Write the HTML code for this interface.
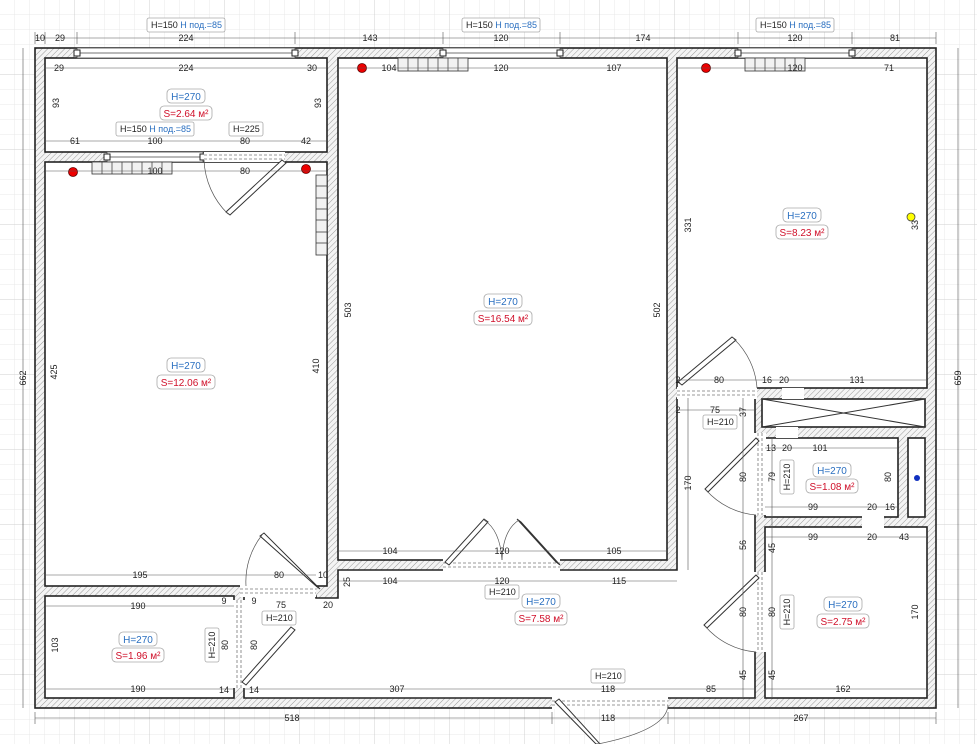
<!DOCTYPE html>
<html><head><meta charset="utf-8"><style>
html,body{margin:0;padding:0;background:#fff}
svg{display:block}
text{font-family:"Liberation Sans",sans-serif;font-size:9px;fill:#222}
.b{fill:#2a6fc0;font-size:10px}.r{fill:#d0102a;font-size:10px}
.bx{fill:#fff;stroke:#aaa;stroke-width:0.8}
.rm{fill:#fff;stroke:#222;stroke-width:1.6}
.dl{stroke:#555;stroke-width:0.6;fill:none}
.op{fill:#fff;stroke:#444;stroke-width:0.8}
.ds{stroke:#777;stroke-width:0.8;stroke-dasharray:3 2;fill:none}
.lf{fill:#fff;stroke:#333;stroke-width:1}
.ar{fill:none;stroke:#555;stroke-width:0.7}
</style></head><body>
<svg width="977" height="744" viewBox="0 0 977 744" xmlns="http://www.w3.org/2000/svg">
<defs>
<pattern id="g" width="15" height="15" patternUnits="userSpaceOnUse"><path d="M15 0V15H0" fill="none" stroke="#e2e2e2" stroke-width="0.7"/></pattern>
<pattern id="G" width="75" height="75" patternUnits="userSpaceOnUse"><path d="M75 0V75H0" fill="none" stroke="#cfcfcf" stroke-width="0.9"/></pattern>
<pattern id="h" width="4" height="4" patternUnits="userSpaceOnUse" patternTransform="rotate(45)"><rect width="4" height="4" fill="#f4f4f4"/><line x1="0" y1="0" x2="0" y2="4" stroke="#9a9a9a" stroke-width="1"/></pattern>
</defs>
<rect width="977" height="744" fill="#fff"/>
<rect width="977" height="744" fill="url(#g)"/>
<rect width="977" height="744" fill="url(#G)"/>
<!-- building -->
<rect x="35" y="48" width="901" height="660" fill="url(#h)" stroke="#222" stroke-width="1.6"/>
<rect class="rm" x="45" y="58" width="282" height="94"/>
<rect class="rm" x="45" y="162" width="282" height="424"/>
<rect class="rm" x="338" y="58" width="329" height="502"/>
<rect class="rm" x="677" y="58" width="250" height="330"/>
<rect class="rm" x="45" y="596" width="189" height="102"/>
<polygon class="rm" points="244,596 316,596 316,598 338,598 338,570 677,570 677,398 755,398 755,698 244,698"/>
<rect class="rm" x="762" y="399" width="163" height="28"/>
<path d="M762 399L925 427M762 427L925 399" stroke="#333" stroke-width="1" fill="none" transform="translate(0,0)"/>
<rect class="rm" x="765" y="438" width="133" height="79"/>
<rect class="rm" x="908" y="438" width="17" height="79"/>
<rect class="rm" x="765" y="527" width="162" height="171"/>
<circle cx="917" cy="478" r="3" fill="#1030c0"/>
<!-- windows -->
<rect class="op" x="77" y="48" width="218" height="10"/><line x1="77" y1="53" x2="295" y2="53" stroke="#444" stroke-width="0.8"/>
<rect class="op" x="443" y="48" width="117" height="10"/><line x1="443" y1="53" x2="560" y2="53" stroke="#444" stroke-width="0.8"/>
<rect class="op" x="738" y="48" width="114" height="10"/><line x1="738" y1="53" x2="852" y2="53" stroke="#444" stroke-width="0.8"/>
<rect class="op" x="107" y="152" width="96" height="10"/><line x1="107" y1="157" x2="203" y2="157" stroke="#444" stroke-width="0.8"/>
<g fill="#fff" stroke="#222" stroke-width="1">
<rect x="74" y="50" width="6" height="6"/><rect x="292" y="50" width="6" height="6"/>
<rect x="440" y="50" width="6" height="6"/><rect x="557" y="50" width="6" height="6"/>
<rect x="735" y="50" width="6" height="6"/><rect x="849" y="50" width="6" height="6"/>
<rect x="104" y="154" width="6" height="6"/><rect x="200" y="154" width="6" height="6"/>
</g>
<!-- door openings -->
<g fill="#fff" stroke="none">
<rect x="204" y="152" width="81" height="10"/>
<rect x="443" y="559" width="117" height="12"/>
<rect x="552" y="697" width="116" height="12"/>
<rect x="240" y="585" width="76" height="12"/>
<rect x="233" y="600" width="12" height="88"/>
<rect x="677" y="387" width="80" height="12"/>
<rect x="754" y="433" width="12" height="82"/>
<rect x="754" y="572" width="12" height="80"/>
<rect x="776" y="427" width="22" height="11"/>
<rect x="862" y="516" width="22" height="12"/>
<rect x="782" y="388" width="22" height="11"/>
</g>
<g class="ds">
<path d="M204 155H285M204 159H285"/><path d="M443 563H560M443 567H560"/><path d="M552 701H668M552 705H668"/>
<path d="M240 589H316M240 593H316"/><path d="M237 600V688M241 600V688"/><path d="M677 391H757M677 395H757"/>
<path d="M758 433V515M762 433V515"/><path d="M758 572V652M762 572V652"/>
</g>
<!-- door leaves -->
<g class="lf">
<polygon points="282,160 286,163 230,215 226,212"/>
<polygon points="445,562 449,565 488,522 484,519"/>
<polygon points="556,562 560,565 521,522 517,519"/>
<polygon points="555,702 559,699 600,744 596,744"/>
<polygon points="316,586 320,589 264,533 260,536"/>
<polygon points="242,682 246,685 295,630 291,627"/>
<polygon points="678,382 682,385 736,340 732,337"/>
<polygon points="756,438 759,441 708,492 705,489"/>
<polygon points="756,575 759,578 707,628 704,625"/>
</g>
<g class="ar">
<path d="M204 160A80 80 0 0 0 228 214"/>
<path d="M246 586A75 75 0 0 1 262 535"/>
<path d="M240 684"/>
<path d="M734 339A75 75 0 0 1 757 388"/>
<path d="M706 490A75 75 0 0 0 756 515"/>
<path d="M705 626A75 75 0 0 0 756 652"/>
<path d="M484 520Q500 530 502 560"/><path d="M519 520Q503 530 502 560"/>
<path d="M598 744Q667 730 668 705"/>
</g>
<!-- radiators -->
<g fill="#f2f2f2" stroke="#333" stroke-width="0.8">
<rect x="398" y="58" width="70" height="13"/><rect x="745" y="58" width="60" height="13"/>
<rect x="92" y="162" width="80" height="12"/><rect x="316" y="175" width="11" height="80"/>
</g>
<path d="M408 58v13M418 58v13M428 58v13M438 58v13M448 58v13M458 58v13M755 58v13M765 58v13M775 58v13M785 58v13M795 58v13M102 162v12M112 162v12M122 162v12M132 162v12M142 162v12M152 162v12M162 162v12M316 186h11M316 198h11M316 209h11M316 220h11M316 232h11M316 243h11" stroke="#333" stroke-width="0.7"/>
<g fill="#e00" stroke="#600" stroke-width="0.8"><circle cx="362" cy="68" r="4.5"/><circle cx="706" cy="68" r="4.5"/><circle cx="73" cy="172" r="4.5"/><circle cx="306" cy="169" r="4.5"/></g>
<circle cx="911" cy="217" r="4" fill="#ff0" stroke="#444" stroke-width="0.8"/>
<!-- dimension lines -->
<g class="dl">
<path d="M35 38H936M35 32V44M45 32V44M77 32V44M295 32V44M443 32V44M560 32V44M738 32V44M852 32V44M936 32V44"/>
<path d="M45 68H327M338 68H667M677 68H927"/>
<path d="M45 141H327M45 171H327"/>
<path d="M23 48V708M958 48V708M35 718H936M35 712V724M552 712V724M668 712V724M936 712V724"/>
<path d="M45 575H316M338 551H667M338 581H677M45 606H234M45 689H234M244 689H755M765 689H927"/>
<path d="M677 380H927M677 410H755M765 448H898M765 507H898M765 537H927"/>
<path d="M688 398V570M743 398V698M772 438V698"/>
</g>
<!-- text -->
<g text-anchor="middle">
<text x="40" y="41">10</text><text x="60" y="41">29</text><text x="186" y="41">224</text><text x="370" y="41">143</text><text x="501" y="41">120</text><text x="643" y="41">174</text><text x="795" y="41">120</text><text x="895" y="41">81</text>
<text x="59" y="71">29</text><text x="186" y="71">224</text><text x="312" y="71">30</text><text x="389" y="71">104</text><text x="501" y="71">120</text><text x="614" y="71">107</text><text x="795" y="71">120</text><text x="889" y="71">71</text>
<text x="75" y="144">61</text><text x="155" y="144">100</text><text x="245" y="144">80</text><text x="306" y="144">42</text>
<text x="155" y="174">100</text><text x="245" y="174">80</text>
<text x="140" y="578">195</text><text x="279" y="578">80</text><text x="323" y="578">10</text>
<text x="390" y="554">104</text><text x="502" y="554">120</text><text x="614" y="554">105</text>
<text x="390" y="584">104</text><text x="502" y="584">120</text><text x="619" y="584">115</text>
<text x="138" y="609">190</text><text x="138" y="692">190</text><text x="224" y="604">9</text><text x="254" y="604">9</text><text x="281" y="608">75</text><text x="328" y="608">20</text>
<text x="224" y="693">14</text><text x="254" y="693">14</text><text x="397" y="692">307</text><text x="292" y="721">518</text>
<text x="608" y="692">118</text><text x="711" y="692">85</text><text x="608" y="721">118</text><text x="801" y="721">267</text>
<text x="678" y="383">2</text><text x="719" y="383">80</text><text x="767" y="383">16</text><text x="784" y="383">20</text><text x="857" y="383">131</text>
<text x="678" y="413">2</text><text x="715" y="413">75</text>
<text x="771" y="451">13</text><text x="787" y="451">20</text><text x="820" y="451">101</text>
<text x="813" y="510">99</text><text x="872" y="510">20</text><text x="890" y="510">16</text>
<text x="813" y="540">99</text><text x="872" y="540">20</text><text x="904" y="540">43</text><text x="843" y="692">162</text>
</g>
<g text-anchor="middle">
<text transform="translate(26,378) rotate(-90)">662</text><text transform="translate(57,372) rotate(-90)">425</text><text transform="translate(59,103) rotate(-90)">93</text><text transform="translate(321,103) rotate(-90)">93</text>
<text transform="translate(319,366) rotate(-90)">410</text><text transform="translate(351,310) rotate(-90)">503</text><text transform="translate(660,310) rotate(-90)">502</text>
<text transform="translate(691,225) rotate(-90)">331</text><text transform="translate(918,225) rotate(-90)">33</text><text transform="translate(961,378) rotate(-90)">659</text>
<text transform="translate(350,582) rotate(-90)">25</text><text transform="translate(58,645) rotate(-90)">103</text><text transform="translate(228,645) rotate(-90)">80</text><text transform="translate(257,645) rotate(-90)">80</text>
<text transform="translate(746,412) rotate(-90)">37</text><text transform="translate(691,483) rotate(-90)">170</text><text transform="translate(746,477) rotate(-90)">80</text><text transform="translate(775,477) rotate(-90)">79</text><text transform="translate(891,477) rotate(-90)">80</text>
<text transform="translate(746,545) rotate(-90)">56</text><text transform="translate(775,548) rotate(-90)">45</text><text transform="translate(746,612) rotate(-90)">80</text><text transform="translate(775,612) rotate(-90)">80</text>
<text transform="translate(746,675) rotate(-90)">45</text><text transform="translate(775,675) rotate(-90)">45</text><text transform="translate(918,612) rotate(-90)">170</text>
</g>
<!-- label boxes -->
<g>
<rect class="bx" x="147" y="18" width="78" height="14" rx="2"/><text x="151" y="28">H=150 <tspan fill="#2a6fc0">Н под.=85</tspan></text>
<rect class="bx" x="462" y="18" width="78" height="14" rx="2"/><text x="466" y="28">H=150 <tspan fill="#2a6fc0">Н под.=85</tspan></text>
<rect class="bx" x="756" y="18" width="78" height="14" rx="2"/><text x="760" y="28">H=150 <tspan fill="#2a6fc0">Н под.=85</tspan></text>
<rect class="bx" x="116" y="122" width="78" height="14" rx="2"/><text x="120" y="132">H=150 <tspan fill="#2a6fc0">Н под.=85</tspan></text>
<rect class="bx" x="229" y="122" width="34" height="14" rx="2"/><text x="233" y="132">H=225</text>
<rect class="bx" x="485" y="585" width="34" height="14" rx="2"/><text x="489" y="595">H=210</text>
<rect class="bx" x="262" y="611" width="34" height="14" rx="2"/><text x="266" y="621">H=210</text>
<rect class="bx" x="591" y="669" width="34" height="14" rx="2"/><text x="595" y="679">H=210</text>
<rect class="bx" x="703" y="415" width="34" height="14" rx="2"/><text x="707" y="425">H=210</text>
<rect class="bx" x="205" y="628" width="14" height="34" rx="2"/><text transform="translate(215,645) rotate(-90)" text-anchor="middle">H=210</text>
<rect class="bx" x="780" y="460" width="14" height="34" rx="2"/><text transform="translate(790,477) rotate(-90)" text-anchor="middle">H=210</text>
<rect class="bx" x="780" y="595" width="14" height="34" rx="2"/><text transform="translate(790,612) rotate(-90)" text-anchor="middle">H=210</text>
</g>
<g text-anchor="middle">
<rect class="bx" x="167" y="89" width="38" height="14" rx="4"/><text class="b" x="186" y="100">H=270</text>
<rect class="bx" x="160" y="106" width="52" height="14" rx="4"/><text class="r" x="186" y="117">S=2.64 м²</text>
<rect class="bx" x="167" y="358" width="38" height="14" rx="4"/><text class="b" x="186" y="369">H=270</text>
<rect class="bx" x="157" y="375" width="58" height="14" rx="4"/><text class="r" x="186" y="386">S=12.06 м²</text>
<rect class="bx" x="484" y="294" width="38" height="14" rx="4"/><text class="b" x="503" y="305">H=270</text>
<rect class="bx" x="474" y="311" width="58" height="14" rx="4"/><text class="r" x="503" y="322">S=16.54 м²</text>
<rect class="bx" x="783" y="208" width="38" height="14" rx="4"/><text class="b" x="802" y="219">H=270</text>
<rect class="bx" x="776" y="225" width="52" height="14" rx="4"/><text class="r" x="802" y="236">S=8.23 м²</text>
<rect class="bx" x="522" y="594" width="38" height="14" rx="4"/><text class="b" x="541" y="605">H=270</text>
<rect class="bx" x="515" y="611" width="52" height="14" rx="4"/><text class="r" x="541" y="622">S=7.58 м²</text>
<rect class="bx" x="813" y="463" width="38" height="14" rx="4"/><text class="b" x="832" y="474">H=270</text>
<rect class="bx" x="806" y="479" width="52" height="14" rx="4"/><text class="r" x="832" y="490">S=1.08 м²</text>
<rect class="bx" x="824" y="597" width="38" height="14" rx="4"/><text class="b" x="843" y="608">H=270</text>
<rect class="bx" x="817" y="614" width="52" height="14" rx="4"/><text class="r" x="843" y="625">S=2.75 м²</text>
<rect class="bx" x="119" y="632" width="38" height="14" rx="4"/><text class="b" x="138" y="643">H=270</text>
<rect class="bx" x="112" y="648" width="52" height="14" rx="4"/><text class="r" x="138" y="659">S=1.96 м²</text>
</g>
</svg>
</body></html>
